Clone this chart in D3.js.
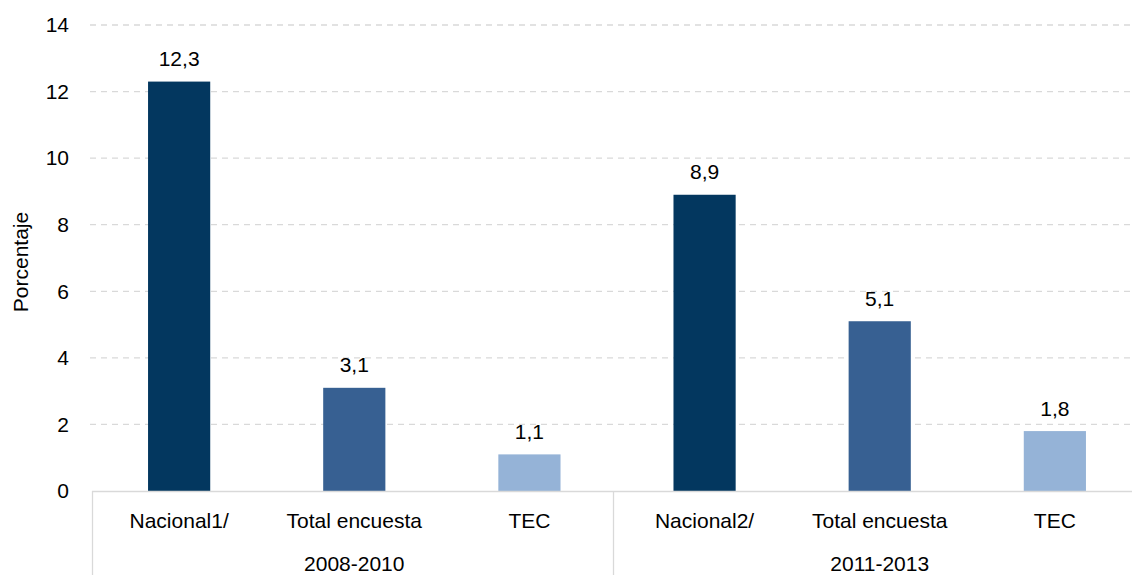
<!DOCTYPE html>
<html>
<head>
<meta charset="utf-8">
<script src="https://cdn.jsdelivr.net/npm/d3@7"></script>
<style>
  body { margin: 0; background: #fff; }
  text { font-family: "Liberation Sans", Arial, sans-serif; fill: #000; }
</style>
</head>
<body>
<div id="grafico"></div>
<script>
// data
var groups = ["2008-2010", "2011-2013"];
var categories = ["Nacional1/", "Total encuesta", "TEC", "Nacional2/", "Total encuesta", "TEC"];
var values = [12.3, 3.1, 1.1, 8.9, 5.1, 1.8];
var colors = ["#03375f", "#376092", "#95b3d7", "#03375f", "#376092", "#95b3d7"];
var yTicks = [0, 2, 4, 6, 8, 10, 12, 14];

var W = 1132, H = 575;
var margin = {top: 25, right: -10, bottom: 84, left: 92};
var width = W - margin.left - margin.right,
    height = H - margin.top - margin.bottom;
var fs = 21;

var svg = d3.select("#grafico").append("svg")
  .attr("width", W).attr("height", H)
  .append("g")
  .attr("transform", "translate(" + margin.left + "," + margin.top + ")");

var x = d3.scaleBand()
  .domain(d3.range(categories.length))
  .range([0, width])
  .paddingInner(0.645).paddingOuter(0.32);

var y = d3.scaleLinear().domain([0, 14]).range([height, 0]);

// grid
svg.append("g")
  .selectAll("line")
  .data(yTicks.filter(function(d) { return d > 0; }))
  .enter().append("line")
  .attr("x1", -2).attr("x2", width)
  .attr("y1", function(d) { return y(d); })
  .attr("y2", function(d) { return y(d); })
  .attr("stroke", "#d9d9d9")
  .attr("stroke-width", 1.3)
  .attr("stroke-dasharray", "6,5");

// y axis labels
svg.append("g")
  .selectAll("text")
  .data(yTicks)
  .enter().append("text")
  .attr("x", -23)
  .attr("y", function(d) { return y(d); })
  .attr("dy", "0.35em")
  .attr("text-anchor", "end")
  .attr("font-size", fs)
  .text(function(d) { return d; });

// y title
svg.append("text")
  .attr("transform", "rotate(-90)")
  .attr("x", -(262 - margin.top))
  .attr("y", -margin.left + 28)
  .attr("text-anchor", "middle")
  .attr("font-size", fs)
  .text("Porcentaje");

// bars
svg.append("g")
  .selectAll("rect")
  .data(values)
  .enter().append("rect")
  .attr("x", function(d, i) { return x(i); })
  .attr("width", x.bandwidth())
  .attr("y", function(d) { return y(d); })
  .attr("height", function(d) { return height - y(d); })
  .attr("fill", function(d, i) { return colors[i]; });

// value labels
svg.append("g")
  .selectAll("text")
  .data(values)
  .enter().append("text")
  .attr("x", function(d, i) { return x(i) + x.bandwidth() / 2; })
  .attr("y", function(d) { return y(d) - 15.5; })
  .attr("text-anchor", "middle")
  .attr("font-size", fs)
  .text(function(d) { return d3.format(".1f")(d).replace(".", ","); });

// baseline + group separators
var step = x.step();
var sepX = [0, x(3) - (x(3) - x(2) - x.bandwidth()) / 2 - 4, width];
svg.append("line")
  .attr("x1", 0).attr("x2", width)
  .attr("y1", height + 0.5).attr("y2", height + 0.5)
  .attr("stroke", "#d9d9d9").attr("stroke-width", 1.3);

svg.append("g")
  .selectAll("line")
  .data(sepX)
  .enter().append("line")
  .attr("x1", function(d) { return Math.round(d) + 0.5; })
  .attr("x2", function(d) { return Math.round(d) + 0.5; })
  .attr("y1", height).attr("y2", H - margin.top)
  .attr("stroke", "#d9d9d9").attr("stroke-width", 1.3);

// category labels
svg.append("g")
  .selectAll("text")
  .data(categories)
  .enter().append("text")
  .attr("x", function(d, i) { return x(i) + x.bandwidth() / 2; })
  .attr("y", height + 37)
  .attr("text-anchor", "middle")
  .attr("font-size", fs)
  .text(function(d) { return d; });

// group labels
svg.append("g")
  .selectAll("text")
  .data(groups)
  .enter().append("text")
  .attr("x", function(d, i) { return x(i * 3 + 1) + x.bandwidth() / 2; })
  .attr("y", height + 80)
  .attr("text-anchor", "middle")
  .attr("font-size", fs)
  .text(function(d) { return d; });
</script>
</body>
</html>
